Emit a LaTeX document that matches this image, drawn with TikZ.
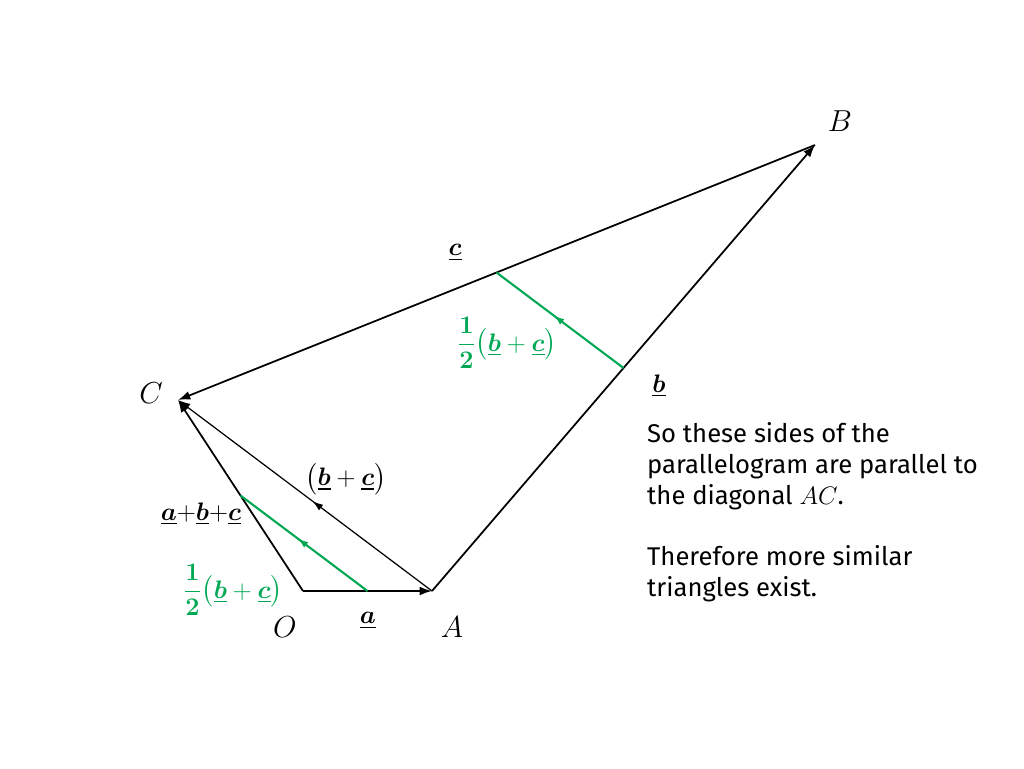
\documentclass[tikz,border=0pt]{standalone}
\usepackage{amsmath,amssymb,bm}
\usepackage{fontspec}
\setsansfont{Fira Sans}
\usetikzlibrary{calc,arrows.meta,decorations.markings}

\definecolor{halfgreen}{RGB}{0,168,84}
\newcommand{\vect}[1]{\underline{\bm{#1}}}
\newcommand{\halfsum}{$\dfrac{\bm{1}}{\bm{2}}\bigl(\vect{b}+\vect{c}\bigr)$}

\begin{document}
\begin{tikzpicture}[x=0.02cm,y=-0.02cm,>={Latex[length=7pt,width=5pt]},
  side/.style={line width=1pt},
  midarrow/.style={postaction={decorate},decoration={markings,mark=at position #1 with {\arrow{Latex[length=6pt,width=4pt]}}}},
  pt/.style={font=\fontsize{19}{21}\selectfont},
  lbl/.style={font=\fontsize{15}{17}\selectfont},
  half/.style={text=halfgreen,font=\fontsize{15}{17}\selectfont}]
\useasboundingbox (0,0) rectangle (1024,768);
\coordinate (O) at (303,591);
\coordinate (A) at (432,591);
\coordinate (B) at (815,145);
\coordinate (C) at (178,400);
\coordinate (OAMID) at ($(O)!0.5!(A)$);
\coordinate (OCMID) at ($(O)!0.5!(C)$);
\coordinate (ABMID) at ($(A)!0.5!(B)$);
\coordinate (BCMID) at ($(B)!0.5!(C)$);
% triangle sides
\draw [side,->] (O) to (A);
\draw [side,->] (A) to (B);
\draw [side,->] (B) to (C);
\draw [side,->] (O) to (C);
\draw [line width=0.7pt,->,midarrow=0.47] (A) to (C);
% mid point joins
\draw [halfgreen,line width=1.2pt,midarrow=0.55] (OAMID) to (OCMID);
\draw [halfgreen,line width=1.2pt,midarrow=0.55] (ABMID) to (BCMID);
% labels
\node [pt] (LO) at (285,627) {$O$};
\node [pt] (LA) at (452,627) {$A$};
\node [pt] (LB) at (840,121) {$B$};
\node [pt] (LC) at (151,393) {$C$};
\node [lbl] (LVA) at (368,621) {$\vect{a}$};
\node [lbl] (LVB) at (659,386) {$\vect{b}$};
\node [lbl] (LVC) at (455,253) {$\vect{c}$};
\node [lbl] (LAC) at (346,479) {$\bigl(\vect{b}+\vect{c}\bigr)$};
\node [lbl] (LOC) at (201,514) {$\vect{a}$+$\vect{b}$+$\vect{c}$};
\node [half] (HALF1) at (233,590) {\halfsum};
\node [half] (HALF2) at (507,343) {\halfsum};
\node [anchor=north west,align=left,font=\sffamily\fontsize{14.6}{17.6}\selectfont] (NOTE) at (641,416)
  {So these sides of the\\parallelogram are parallel to\\the diagonal $AC$.\\[17.6pt]Therefore more similar\\triangles exist.};
\end{tikzpicture}
\end{document}
